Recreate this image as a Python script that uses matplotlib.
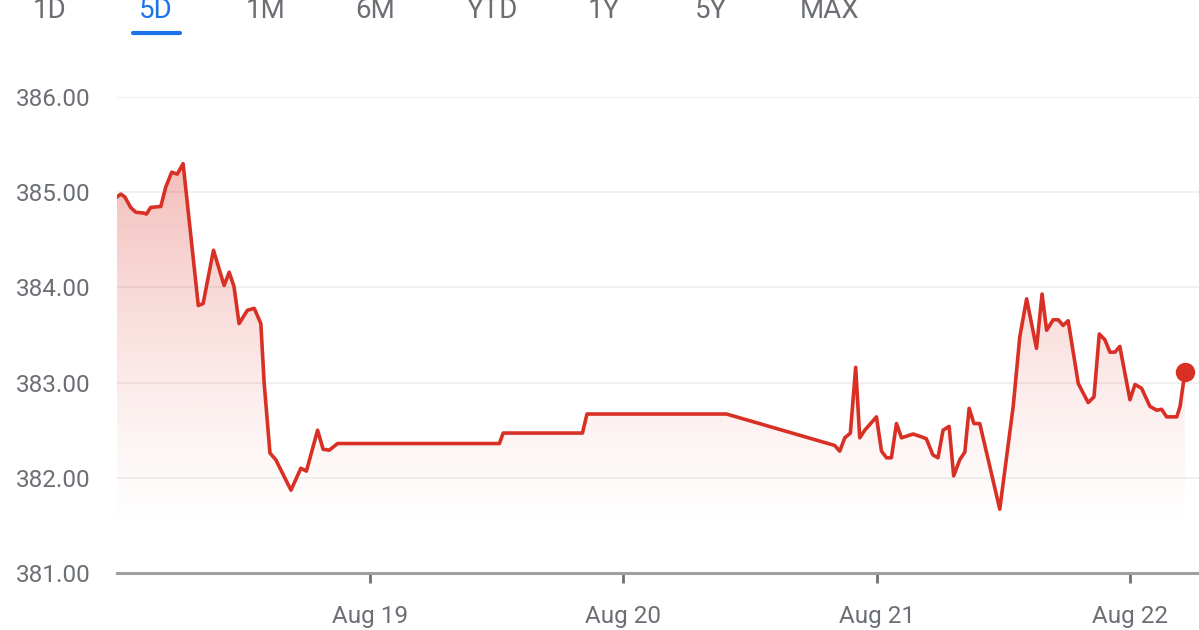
import numpy as np
import matplotlib
matplotlib.use("Agg")
import matplotlib.pyplot as plt
from matplotlib.patches import Polygon
from matplotlib.lines import Line2D
from matplotlib.colors import to_rgb

plt.rcParams['font.family'] = ['Roboto', 'DejaVu Sans']

# ---- data (x = days since Aug 18 00:00) ----
days = [0.000, 0.015, 0.031, 0.054, 0.074, 0.107, 0.116, 0.133, 0.173, 0.192,
        0.216, 0.238, 0.261, 0.321, 0.340, 0.381, 0.423, 0.443, 0.462, 0.482,
        0.515, 0.542, 0.568, 0.581, 0.604, 0.627, 0.687, 0.726, 0.748, 0.792,
        0.814, 0.838, 0.871, 1.510, 1.525, 1.838, 1.856, 2.407, 2.834, 2.854,
        2.874, 2.896, 2.917, 2.933, 2.953, 2.999, 3.019, 3.039, 3.058, 3.078,
        3.098, 3.144, 3.177, 3.196, 3.222, 3.242, 3.262, 3.286, 3.304, 3.328,
        3.348, 3.365, 3.384, 3.407, 3.486, 3.539, 3.565, 3.592, 3.631, 3.653,
        3.671, 3.697, 3.717, 3.736, 3.756, 3.796, 3.835, 3.858, 3.879, 3.901,
        3.921, 3.941, 3.960, 4.000, 4.020, 4.046, 4.079, 4.106, 4.125, 4.145,
        4.185, 4.198, 4.217]
prices = [384.95, 384.98, 384.95, 384.84, 384.79, 384.78, 384.77, 384.84, 384.85, 385.05,
          385.21, 385.19, 385.30, 383.81, 383.83, 384.39, 384.02, 384.16, 384.01, 383.62,
          383.76, 383.78, 383.62, 383.00, 382.26, 382.19, 381.87, 382.10, 382.07, 382.50,
          382.30, 382.29, 382.36, 382.36, 382.47, 382.47, 382.67, 382.67, 382.34, 382.28,
          382.42, 382.47, 383.16, 382.42, 382.50, 382.64, 382.28, 382.21, 382.21, 382.57,
          382.42, 382.46, 382.43, 382.41, 382.24, 382.21, 382.50, 382.54, 382.02, 382.19,
          382.27, 382.73, 382.57, 382.57, 381.67, 382.75, 383.48, 383.88, 383.36, 383.93,
          383.55, 383.66, 383.66, 383.60, 383.65, 382.99, 382.79, 382.85, 383.51, 383.45,
          383.32, 383.32, 383.38, 382.82, 382.98, 382.94, 382.75, 382.71, 382.72, 382.64,
          382.64, 382.75, 383.11]

xtick_pos = [1, 2, 3, 4]
xtick_labels = ['Aug 19', 'Aug 20', 'Aug 21', 'Aug 22']
ytick_vals = [381, 382, 383, 384, 385, 386]
tabs = ['1D', '5D', '1M', '6M', 'YTD', '1Y', '5Y', 'MAX']
active_tab = '5D'

# ---- styling ----
RED = '#d93025'
BLUE = '#1a73e8'
GRAY_TXT = '#6b6f74'
W, H = 1199, 630

fig = plt.figure(figsize=(W / 100, H / 100), dpi=100)
ax = fig.add_axes([117 / W, (H - 573) / H, (1199 - 117) / W, (573 - 97) / H])

x = np.array(days)
y = np.array(prices)
ymin, ymax = 381, 386

# gradient fill under the line
verts = np.vstack([np.column_stack([x, y]), [[x[-1], ymin], [x[0], ymin]]])
poly = Polygon(verts, closed=True, facecolor='none', edgecolor='none')
ax.add_patch(poly)
n = 256
rgba = np.zeros((n, 1, 4))
rgba[..., :3] = to_rgb(RED)
top_v, bot_v = 385.35, 381.4
vals = np.linspace(top_v, ymin, n)
alpha = np.clip((vals - bot_v) / (top_v - bot_v), 0, 1) ** 1.3 * 0.32
rgba[:, 0, 3] = alpha
im = ax.imshow(rgba, extent=[x[0], x[-1], ymin, top_v], aspect='auto',
               origin='upper', zorder=1, interpolation='bilinear')
im.set_clip_path(poly)

ax.plot(x, y, color=RED, lw=2.6, zorder=3, solid_joinstyle='round')
ax.plot(x[-1], y[-1], 'o', color=RED, markersize=14, zorder=4, markeredgewidth=0)

ax.set_xlim(0, (1199 - 118) / 253)
ax.set_ylim(ymin, ymax)

# grid
for v in ytick_vals[1:]:
    ax.axhline(v, color='#eeeeee', lw=1.2, zorder=0)

for s in ['top', 'right', 'left']:
    ax.spines[s].set_visible(False)
ax.spines['bottom'].set_color('#a0a0a0')
ax.spines['bottom'].set_linewidth(2.2)
ax.spines['bottom'].set_zorder(5)

ax.set_yticks(ytick_vals)
ax.set_yticklabels([f'{v:.2f}' for v in ytick_vals])
ax.tick_params(axis='y', length=0, pad=19, labelsize=17.5, labelcolor=GRAY_TXT)
ax.set_xticks(xtick_pos)
ax.set_xticklabels(xtick_labels)
ax.tick_params(axis='x', length=7, width=2, color='#707070', pad=16,
               labelsize=17.5, labelcolor=GRAY_TXT)
ax.patch.set_alpha(0)

# tabs (cut off at the top edge, as in the reference)
tab_x = [50, 156, 266, 375, 492, 604, 711, 830]
for t, tx in zip(tabs, tab_x):
    fig.text(tx / W, 1 - 18 / H, t, ha='center', va='baseline', fontsize=20,
             color=BLUE if t == active_tab else GRAY_TXT)
fig.add_artist(Line2D([133 / W, 180 / W], [1 - 33 / H, 1 - 33 / H], color=BLUE,
                      lw=3, solid_capstyle='round', transform=fig.transFigure))

fig.savefig('out.png', dpi=100)
